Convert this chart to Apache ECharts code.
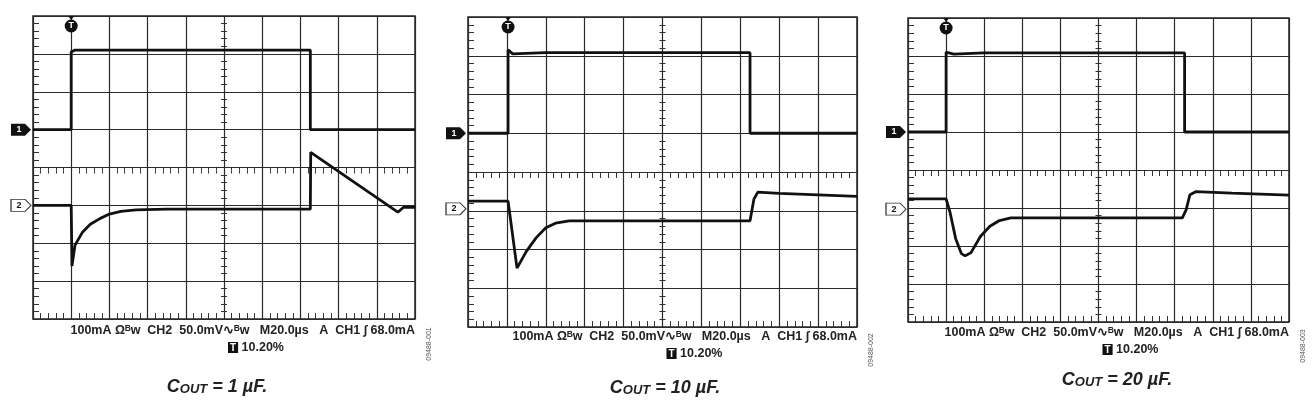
<!DOCTYPE html>
<html>
<head>
<meta charset="utf-8">
<script src="https://cdn.jsdelivr.net/npm/echarts@6/dist/echarts.min.js"></script>
<style>html,body{margin:0;background:#fff}#c{width:1316px;height:417px}</style>
</head>
<body>
<div id="c"></div>
<script>
// trace values in scope divisions: x 0..10, y 0..8 (from bottom)
var ch1_1uF = [[0,5.0],[1.0,5.0],[1.0,7.05],[1.1,7.1],[7.26,7.1],[7.26,5.0],[10,5.0]];
var ch2_1uF = [[0,3.0],[1.0,3.0],[1.02,1.4],[1.1,1.95],[1.3,2.3],[1.5,2.5],[1.75,2.65],[2.0,2.77],[2.3,2.84],[2.7,2.88],[3.5,2.9],[7.26,2.9],[7.27,4.4],[9.55,2.82],[9.7,2.95],[10,2.95]];
var ch1_10uF = [[0,5],[1.03,5],[1.03,7.15],[1.15,7.05],[2,7.08],[7.25,7.08],[7.25,5],[10,5]];
var ch2_10uF = [[0,3.25],[1.03,3.25],[1.26,1.52],[1.5,1.95],[1.75,2.3],[2.0,2.56],[2.25,2.68],[2.6,2.74],[7.25,2.74],[7.35,3.3],[7.45,3.48],[8,3.45],[10,3.37]];
var ch1_20uF = [[0,5],[1.0,5],[1.0,7.1],[1.2,7.05],[2,7.08],[7.26,7.08],[7.26,5],[10,5]];
var ch2_20uF = [[0,3.24],[1.0,3.24],[1.1,2.9],[1.25,2.2],[1.4,1.8],[1.5,1.74],[1.65,1.82],[1.9,2.25],[2.15,2.52],[2.4,2.67],[2.7,2.74],[7.2,2.74],[7.3,2.95],[7.4,3.35],[7.55,3.43],[8.5,3.39],[10,3.34]];
var ch2Ref = [3.0, 3.05, 2.97];
var trigX = [1.0, 1.03, 1.0];
var captions = ['1 µF.', '10 µF.', '20 µF.'];
var codes = ['09488-001', '09488-002', '09488-003'];
var scopeText = '100mA Ω\u1D2Ew  CH2  50.0mV\u223F\u1D2Ew   M20.0µs   A  CH1 \u222B 68.0mA';

var boxes = [
  {left: 33, top: 16, width: 382, height: 303, tx: 415, ty: 324, cx: 217, cy: 377},
  {left: 468, top: 17, width: 389, height: 310, tx: 857, ty: 330, cx: 665, cy: 378},
  {left: 908, top: 18, width: 381, height: 304, tx: 1289, ty: 326, cx: 1117, cy: 370}
];
var traces = [[ch1_1uF, ch2_1uF], [ch1_10uF, ch2_10uF], [ch1_20uF, ch2_20uF]];

var grids = [], xAxes = [], yAxes = [], series = [], graphics = [];
var arrow = 'path://M0,0 L14,0 L20,6 L14,12 L0,12 Z';
var TL = 3;
var NX = 5, NY = 5; // axes per grid

boxes.forEach(function (b, i) {
  grids.push({left: b.left, top: b.top, width: b.width, height: b.height, show: true, borderColor: '#222', borderWidth: 1.5});
  var gx = {min: 0, max: 10, interval: 1};
  var gy = {min: 0, max: 8, interval: 1};
  xAxes.push(Object.assign({gridIndex: i, type: 'value', axisLabel: {show: false}, axisLine: {show: false},
    axisTick: {show: false}, splitLine: {show: true, lineStyle: {color: '#2a2a2a', width: 1.2}}}, gx));
  yAxes.push(Object.assign({gridIndex: i, type: 'value', axisLabel: {show: false}, axisLine: {show: false},
    axisTick: {show: false}, splitLine: {show: true, lineStyle: {color: '#2a2a2a', width: 1.2}}}, gy));
  // minor tick axes, ticks drawn outward from a line shifted inward by TL
  var xt = [['bottom', -TL], ['top', -TL], ['bottom', -b.height / 2], ['bottom', -b.height / 2 - TL]];
  xt.forEach(function (t) {
    xAxes.push(Object.assign({gridIndex: i, type: 'value', position: t[0], offset: t[1],
      axisLabel: {show: false}, axisLine: {show: false}, splitLine: {show: false},
      axisTick: {show: false}, minorTick: {show: true, splitNumber: 5, length: TL, lineStyle: {color: '#333'}}}, gx));
  });
  var yt = [['left', -TL], ['right', -TL], ['left', -b.width / 2], ['left', -b.width / 2 - TL]];
  yt.forEach(function (t) {
    yAxes.push(Object.assign({gridIndex: i, type: 'value', position: t[0], offset: t[1],
      axisLabel: {show: false}, axisLine: {show: false}, splitLine: {show: false},
      axisTick: {show: false}, minorTick: {show: true, splitNumber: 5, length: TL, lineStyle: {color: '#333'}}}, gy));
  });
  var xi = i * NX, yi = i * NY;
  series.push({
    type: 'line', xAxisIndex: xi, yAxisIndex: yi, data: traces[i][0], showSymbol: false, animation: false,
    lineStyle: {color: '#111', width: 2.8},
    markPoint: {silent: true, animation: false, data: [
      {coord: [0, traces[i][0][0][1]], symbol: arrow, symbolSize: [20, 12], symbolOffset: [-12, 0],
        itemStyle: {color: '#111'}, label: {show: true, formatter: '1', color: '#fff', fontSize: 9, fontWeight: 'bold', offset: [-2, 0]}},
      {coord: [trigX[i], 8], symbol: 'circle', symbolSize: 13, symbolOffset: [0, 10],
        itemStyle: {color: '#111'}, label: {show: true, formatter: 'T', color: '#fff', fontSize: 9, fontWeight: 'bold'}},
      {coord: [trigX[i], 8], symbol: 'triangle', symbolRotate: 180, symbolSize: [6, 4], symbolOffset: [0, 2],
        itemStyle: {color: '#111'}, label: {show: false}}
    ]}
  });
  series.push({
    type: 'line', xAxisIndex: xi, yAxisIndex: yi, data: traces[i][1], showSymbol: false, animation: false,
    lineStyle: {color: '#111', width: 2.8},
    markPoint: {silent: true, animation: false, data: [
      {coord: [0, ch2Ref[i]], symbol: arrow, symbolSize: [20, 12], symbolOffset: [-12, 0],
        itemStyle: {color: '#fff', borderColor: '#333', borderWidth: 1}, label: {show: true, formatter: '2', color: '#111', fontSize: 9, fontWeight: 'bold', offset: [-2, 0]}}
    ]}
  });
  graphics.push({type: 'text', right: 1316 - b.tx, top: b.ty, style: {text: scopeText, font: 'bold 12.5px "Liberation Sans", Arial', fill: '#222'}});
  graphics.push({type: 'text', left: (b.left + b.tx) / 2 + 4, top: b.ty + 17, style: {
    text: '{t|T} 10.20%', font: 'bold 12.5px "Liberation Sans", Arial', fill: '#222',
    rich: {t: {backgroundColor: '#111', fill: '#fff', padding: [1, 2, 0, 2], font: 'bold 10px "Liberation Sans", Arial'}}}});
  graphics.push({type: 'text', x: b.tx + 14, y: b.ty + 20, rotation: Math.PI / 2, style: {
    text: codes[i], font: '7px "Liberation Sans", Arial', fill: '#555', align: 'center', verticalAlign: 'middle'}});
  graphics.push({type: 'text', x: b.cx, y: b.cy, style: {
    text: '{c|C}{s|OUT}{c| = ' + captions[i] + '}', align: 'center',
    rich: {c: {font: 'italic bold 18px "Liberation Sans", Arial', fill: '#222', verticalAlign: 'bottom'},
      s: {font: 'italic bold 13px "Liberation Sans", Arial', fill: '#222', padding: [6, 0, 0, 0], verticalAlign: 'bottom'}}}});
});

var chart = echarts.init(document.getElementById('c'), null, {renderer: 'canvas'});
chart.setOption({animation: false, grid: grids, xAxis: xAxes, yAxis: yAxes, series: series, graphic: graphics});
</script>
</body>
</html>
